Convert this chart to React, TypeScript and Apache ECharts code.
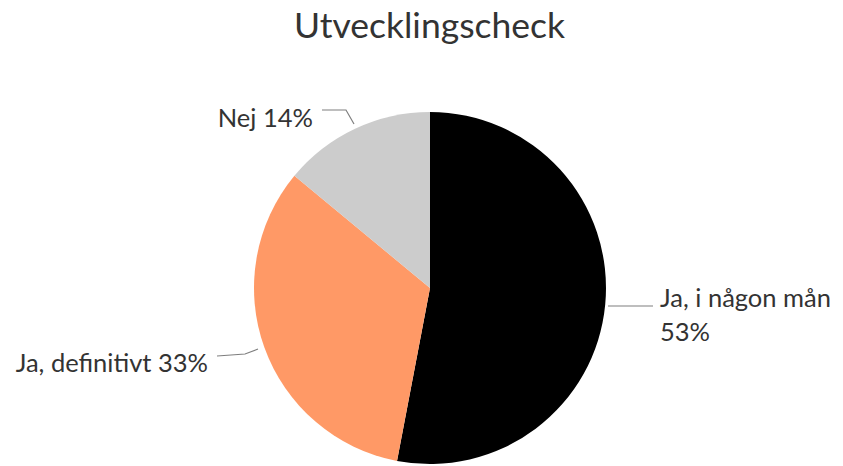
import React, { useEffect, useRef } from "react";
import * as echarts from "echarts";

const title = "Utvecklingscheck";
const categories = ["Ja, i någon mån", "Ja, definitivt", "Nej"];
const values = [53, 33, 14];
const colors = ["#000000", "#FF9966", "#CCCCCC"];

// label anchor placements (layout only)
const labelPlacement = [
  { x: 660, y: 314, align: "left", line: [[608, 306], [653, 306], [653, 306]] },
  { x: 208, y: 362, align: "right", line: [[258, 349], [245, 354], [217, 356]] },
  { x: 313, y: 117, align: "right", line: [[354, 124], [346, 110], [322, 110]] },
];

export default function App() {
  const ref = useRef<HTMLDivElement>(null);
  useEffect(() => {
    const chart = echarts.init(ref.current!, null, { renderer: "svg" });
    chart.setOption({
      animation: false,
      title: {
        text: title,
        left: 289,
        top: 1,
        textStyle: { fontFamily: "Lato", fontSize: 35.5, fontWeight: "normal", color: "#333333" },
      },
      series: [
        {
          type: "pie",
          center: [430, 288],
          radius: 176,
          startAngle: 90,
          clockwise: true,
          data: categories.map((c, i) => ({
            name: c,
            value: values[i],
            itemStyle: { color: colors[i] },
          })),
          label: {
            show: true,
            fontFamily: "Lato",
            fontSize: 25.5,
            color: "#333333",
            lineHeight: 34,
            formatter: (p: any) =>
              p.dataIndex === 0 ? `${p.name}\n${p.value}%` : `${p.name} ${p.value}%`,
          },
          labelLine: { show: true, lineStyle: { color: "#7f7f7f", width: 1.2 } },
          labelLayout: (p: any) => {
            const pl = labelPlacement[p.dataIndex];
            return {
              x: pl.x,
              y: pl.y,
              align: pl.align,
              verticalAlign: "middle",
              labelLinePoints: pl.line,
            };
          },
        },
      ],
    });
    return () => chart.dispose();
  }, []);
  return (
    <div
      ref={ref}
      style={{ position: "absolute", left: 0, top: 0, width: 843, height: 466, background: "#fff" }}
    />
  );
}
